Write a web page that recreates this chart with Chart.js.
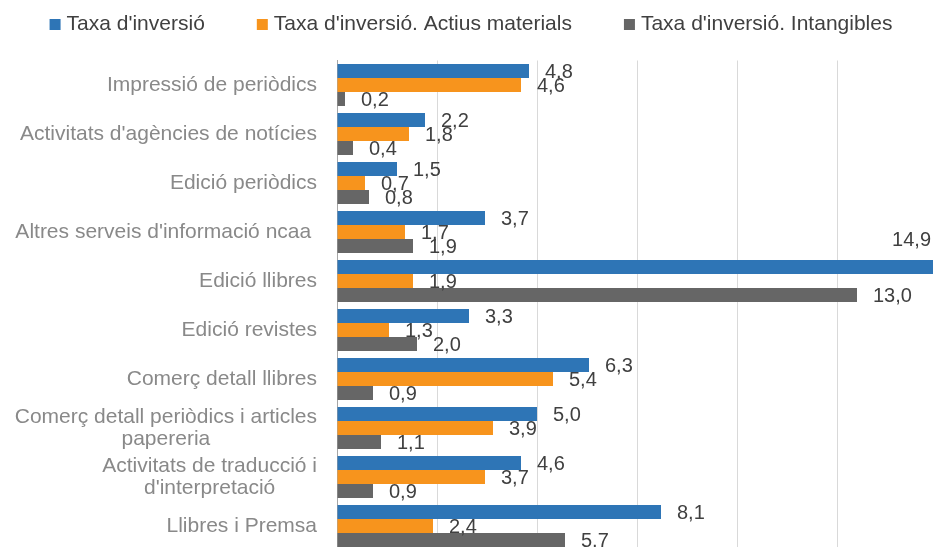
<!DOCTYPE html>
<html>
<head>
<meta charset="utf-8">
<script src="https://cdn.jsdelivr.net/npm/chart.js@4.4.1/dist/chart.umd.min.js"></script>
<style>
  html, body { margin: 0; padding: 0; background: #fff; overflow: hidden; }
  #wrap { position: absolute; left: 0; top: 0; width: 940px; height: 560px; }
</style>
</head>
<body>
<div id="wrap"><canvas id="myChart"></canvas></div>
<script>
const categories = [
  ["Impressió de periòdics"],
  ["Activitats d'agències de notícies"],
  ["Edició periòdics"],
  ["Altres serveis d'informació ncaa "],
  ["Edició llibres"],
  ["Edició revistes"],
  ["Comerç detall llibres"],
  ["Comerç detall periòdics i articles", "papereria"],
  ["Activitats de traducció i", "d'interpretació"],
  ["Llibres i Premsa"]
];
const seriesNames = ["Taxa d'inversió", "Taxa d'inversió. Actius materials", "Taxa d'inversió. Intangibles"];
const taxaTotal = [4.8, 2.2, 1.5, 3.7, 14.9, 3.3, 6.3, 5.0, 4.6, 8.1];
const taxaMaterials = [4.6, 1.8, 0.7, 1.7, 1.9, 1.3, 5.4, 3.9, 3.7, 2.4];
const taxaIntangibles = [0.2, 0.4, 0.8, 1.9, 13.0, 2.0, 0.9, 1.1, 0.9, 5.7];
const colors = ["#2e75b6", "#f7941d", "#666666"];

const FONT = "'Liberation Sans', Arial, sans-serif";

// labels, legend and value texts drawn by hand (Excel look)
const drawTexts = {
  id: "drawTexts",
  afterDraw(chart) {
    const c = chart.ctx;
    const area = chart.chartArea;
    const yScale = chart.scales.y;
    c.save();

    // category labels
    c.font = "21px " + FONT;
    c.fillStyle = "#898989";
    c.textBaseline = "middle";
    c.textAlign = "center";
    const right = area.left - 20;
    categories.forEach((lines, i) => {
      const yc = yScale.getPixelForValue(i);
      let w = 0;
      lines.forEach(l => { w = Math.max(w, c.measureText(l).width); });
      lines.forEach((l, j) => {
        c.fillText(l, right - w / 2, yc + (j - (lines.length - 1) / 2) * 22);
      });
    });

    // values
    c.font = "20px " + FONT;
    c.fillStyle = "#404040";
    chart.data.datasets.forEach((ds, di) => {
      const meta = chart.getDatasetMeta(di);
      meta.data.forEach((bar, i) => {
        const txt = ds.data[i].toFixed(1).replace(".", ",");
        const w = c.measureText(txt).width;
        if (bar.x + 16 + w > area.right) {
          c.textAlign = "right";
          c.fillText(txt, bar.x - 2, bar.y - 27);
        } else {
          c.textAlign = "left";
          c.fillText(txt, bar.x + 16, bar.y + 1);
        }
      });
    });

    // legend
    c.font = "21px " + FONT;
    c.textAlign = "left";
    const widths = seriesNames.map(n => 17 + c.measureText(n).width);
    const total = widths.reduce((a, b) => a + b, 0) + 52 * (seriesNames.length - 1);
    let x = 471 - total / 2;
    seriesNames.forEach((n, i) => {
      c.fillStyle = colors[i];
      c.fillRect(x, 19, 11, 11);
      c.fillStyle = "#404040";
      c.fillText(n, x + 17, 24.5);
      x += widths[i] + 52;
    });

    c.restore();
  }
};

const ctx = document.getElementById("myChart");
const chart = new Chart(ctx, {
  type: "bar",
  data: {
    labels: categories,
    datasets: [
      { label: seriesNames[0], data: taxaTotal, backgroundColor: colors[0] },
      { label: seriesNames[1], data: taxaMaterials, backgroundColor: colors[1] },
      { label: seriesNames[2], data: taxaIntangibles, backgroundColor: colors[2] }
    ]
  },
  options: {
    indexAxis: "y",
    responsive: true,
    maintainAspectRatio: false,
    animation: false,
    categoryPercentage: 0.857,
    barPercentage: 1,
    layout: { padding: { left: 337, right: 3, top: 60.5, bottom: 9.5 } },
    plugins: { legend: { display: false }, tooltip: { enabled: false } },
    scales: {
      x: {
        min: 0,
        max: 15,
        ticks: { display: false, stepSize: 2.5 },
        grid: { color: "#d9d9d9", drawTicks: false },
        border: { display: false }
      },
      y: {
        ticks: { display: false },
        grid: { display: false, drawTicks: false },
        border: { display: true, color: "#a6a6a6", width: 1 }
      }
    }
  },
  plugins: [drawTexts]
});
</script>
</body>
</html>
